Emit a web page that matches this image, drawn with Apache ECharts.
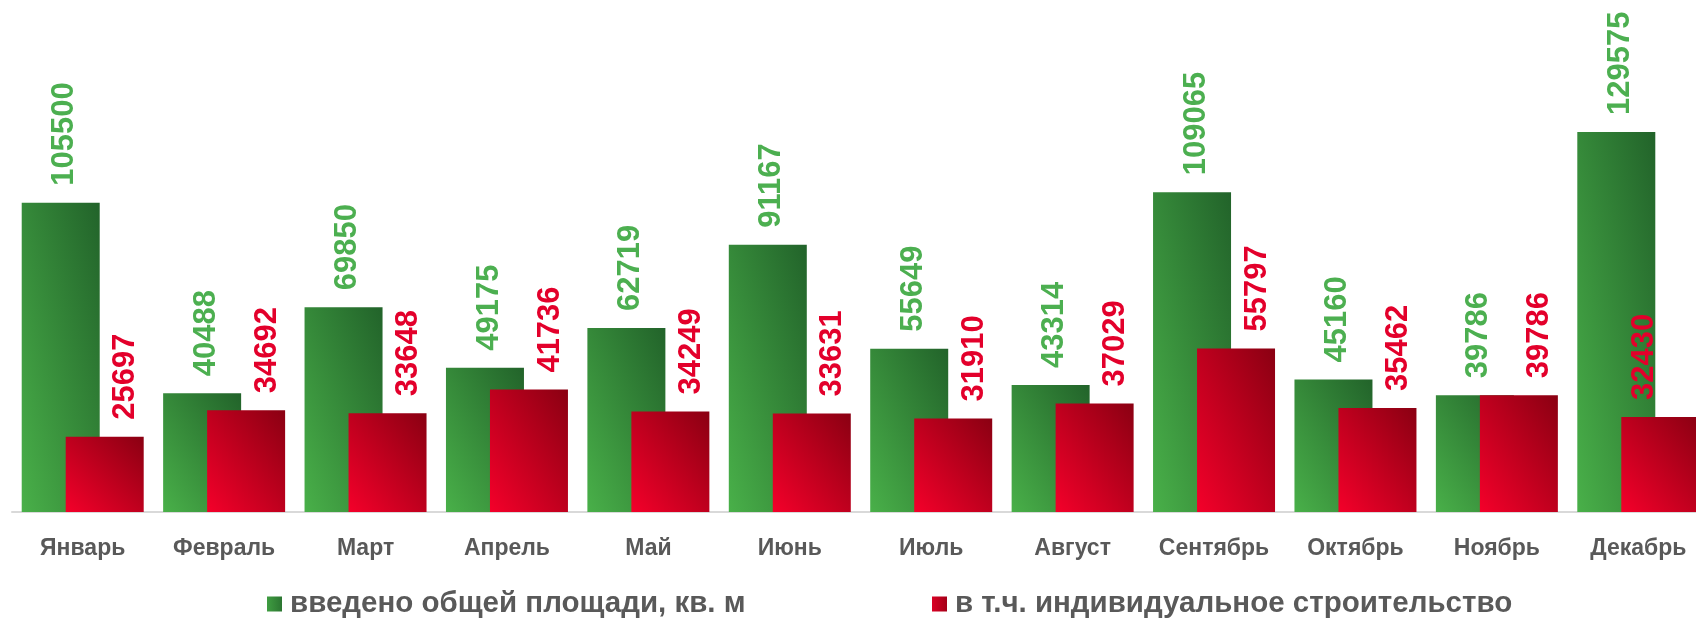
<!DOCTYPE html>
<html>
<head>
<meta charset="utf-8">
<script src="https://cdn.jsdelivr.net/npm/echarts@6/dist/echarts.min.js"></script>
<style>
  html, body { margin: 0; padding: 0; background: #fff; }
  #chart { width: 1696px; height: 623px; }
</style>
</head>
<body>
<div id="chart"></div>
<script>
// месяцы
const months = ['Январь', 'Февраль', 'Март', 'Апрель', 'Май', 'Июнь', 'Июль', 'Август', 'Сентябрь', 'Октябрь', 'Ноябрь', 'Декабрь']
// введено общей площади
const totalArea = [105500, 40488, 69850, 49175, 62719, 91167, 55649, 43314, 109065, 45160, 39786, 129575]
// в т.ч. ИЖС
const privateArea = [25697, 34692, 33648, 41736, 34249, 33631, 31910, 37029, 55797, 35462, 39786, 32430]

const seriesNames = ['введено общей площади, кв. м', 'в т.ч. индивидуальное строительство']

const chart = echarts.init(document.getElementById('chart'))

const Y_MAX = 174600
const GRID_H = 512
const BAR_W = 78

// градиент как в Excel: светлый угол снизу-слева, тёмный сверху-справа,
// линии равного цвета идут по диагонали прямоугольника
function diagFill(value, light, dark) {
  const h = Math.max(1, value / Y_MAX * GRID_H)
  const w = BAR_W
  const l2 = h * h + w * w
  const ax = h * h / l2
  const ay = w * w / l2
  return new echarts.graphic.LinearGradient(0.5 - ax, 0.5 + ay, 0.5 + ax, 0.5 - ay, [
    { offset: 0, color: light },
    { offset: 1, color: dark }
  ])
}

const GREEN_LIGHT = '#49b049', GREEN_DARK = '#22632a'
const RED_LIGHT = '#f4002a', RED_DARK = '#8a0012'

const legendText = { color: '#595959', fontSize: 29.5, fontWeight: 'bold', fontFamily: 'Liberation Sans, Arial, sans-serif', padding: [0, 0, 0, 3] }
const digitFont = 'Liberation Sans, Arial, sans-serif'

const option = {
  animation: false,
  grid: {
    left: 12,
    top: 0,
    width: 1697,
    height: GRID_H,
    outerBoundsMode: 'none',
    containLabel: false
  },
  legend: [
    {
      data: [{ name: seriesNames[0], itemStyle: { color: diagFill(Y_MAX, GREEN_LIGHT, GREEN_DARK) } }],
      left: 262,
      top: 584,
      icon: 'rect',
      itemWidth: 15,
      itemHeight: 15,
      textStyle: legendText
    },
    {
      data: [{ name: seriesNames[1], itemStyle: { color: diagFill(Y_MAX, RED_LIGHT, RED_DARK) } }],
      left: 927,
      top: 584,
      icon: 'rect',
      itemWidth: 15,
      itemHeight: 15,
      textStyle: legendText
    }
  ],
  xAxis: {
    type: 'category',
    data: months,
    boundaryGap: true,
    axisLine: { lineStyle: { color: '#d9d9d9', width: 2 } },
    axisTick: { show: false },
    axisLabel: {
      interval: 0,
      margin: 25,
      color: '#595959',
      fontSize: 23,
      fontWeight: 'bold',
      fontFamily: 'Liberation Sans, Arial, sans-serif'
    }
  },
  yAxis: {
    type: 'value',
    min: 0,
    max: Y_MAX,
    show: false,
    splitLine: { show: false }
  },
  series: [
    {
      name: seriesNames[0],
      type: 'bar',
      data: totalArea.map(v => ({ value: v, itemStyle: { color: diagFill(v, GREEN_LIGHT, GREEN_DARK) } })),
      barWidth: BAR_W,
      barGap: '-43.6%',
      itemStyle: { color: GREEN_LIGHT },
      label: {
        show: true,
        position: 'top',
        distance: 17,
        rotate: 90,
        align: 'left',
        verticalAlign: 'middle',
        offset: [0, 4],
        color: '#4caf50',
        fontSize: 31,
        fontWeight: 'bold',
        fontFamily: digitFont
      }
    },
    {
      name: seriesNames[1],
      type: 'bar',
      data: privateArea.map((v, i) => {
        const item = { value: v, itemStyle: { color: diagFill(v, RED_LIGHT, RED_DARK) } }
        // последняя подпись у края — сдвинута внутрь, как в оригинале
        if (i === privateArea.length - 1) item.label = { offset: [0, -16] }
        return item
      }),
      barWidth: BAR_W,
      itemStyle: { color: RED_LIGHT },
      label: {
        show: true,
        position: 'top',
        distance: 17,
        rotate: 90,
        align: 'left',
        verticalAlign: 'middle',
        offset: [0, 21],
        color: '#e3002b',
        fontSize: 31,
        fontWeight: 'bold',
        fontFamily: digitFont
      }
    }
  ]
}

chart.setOption(option)
</script>
</body>
</html>
